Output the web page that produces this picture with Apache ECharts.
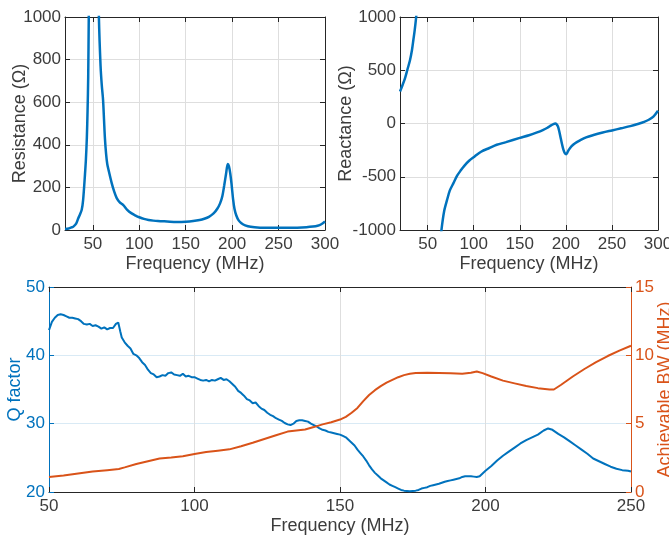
<!DOCTYPE html>
<html>
<head>
<meta charset="utf-8">
<script src="https://cdn.jsdelivr.net/npm/echarts@6.0.0/dist/echarts.min.js"></script>
<style>
html, body { margin: 0; padding: 0; background: #fff; }
#chart { width: 669px; height: 540px; }
</style>
</head>
<body>
<div id="chart"></div>
<script>
// tick labels
const freqTicksTop = [50, 100, 150, 200, 250, 300]

// resistance (top left)
const resFreq = [20, 24, 27, 29, 32, 34.3, 36, 38, 39.5, 41.5, 42.5, 43.5, 44.3, 45, 45.6, 47, 49.5, 51.5, 53.5, 55.5, 56.5, 58.3, 59.6, 61, 62, 63, 64.2, 65.5, 67, 70.3, 73, 75.7, 79, 82.8, 87, 91.8, 96, 100, 105, 110, 115, 120, 130, 140, 150, 158, 165, 170, 175, 180, 184, 187, 189.5, 191.5, 193.5, 195.3, 196.5, 198, 199.5, 201, 202.5, 204.5, 207, 210, 214, 220, 230, 240, 255, 270, 280, 287, 292, 296, 300]
const resValues = [5, 7, 12, 16, 30, 55, 72, 95, 140, 260, 330, 430, 560, 720, 1000, 1600, 2600, 2800, 2200, 1300, 1000, 770, 680, 610, 520, 430, 360, 310, 280, 220, 180, 150, 130, 117, 95, 78, 68, 60, 52, 47, 44, 42, 40, 38, 39, 42, 47, 53, 62, 78, 100, 125, 160, 210, 265, 310, 300, 265, 210, 145, 100, 68, 45, 32, 22, 15, 11, 10, 10, 11, 13, 16, 20, 27, 40]

// reactance (top right), '-' = gap at the resonance
const reacFreq = [20, 22.5, 25.4, 28, 30.9, 33, 34.5, 36, 37.4, 39, 41, 50, 62, 63.5, 65, 68, 71, 74, 78, 82, 86, 90, 95, 101, 108, 117, 125, 135, 150, 160, 168, 175, 180, 184, 186.5, 188.5, 190, 191.5, 193, 194.5, 196, 197.5, 199, 200.3, 201.5, 203, 206, 210, 215, 222, 230, 240, 250, 260, 270, 278, 285, 290, 295, 300]
const reacValues = [300, 355, 424, 505, 596, 690, 784, 880, 988, 1130, 1400, '-', -1400, -1150, -1000, -820, -720, -630, -560, -490, -440, -395, -350, -310, -265, -230, -200, -175, -135, -110, -86, -62, -40, -18, -5, 0, -8, -30, -80, -140, -200, -250, -280, -288, -275, -250, -215, -185, -160, -130, -108, -85, -65, -45, -25, -5, 15, 35, 65, 120]

// Q factor (bottom, left axis)
const qFreq = [50, 51, 52, 53, 54, 55, 56, 57, 58, 59, 60, 61, 62, 63, 64, 65, 66, 67, 68, 69, 70, 71, 72, 73, 73.8, 74.5, 75, 76, 77, 78, 79, 80, 81, 82, 83, 84, 85, 86, 87, 88, 89, 90, 91, 92, 93, 94, 95, 96, 97, 98, 99, 100, 101, 102, 103, 104, 105, 106, 107, 108, 109, 110, 111, 112, 113, 114, 115, 116, 117, 118, 119, 120, 121, 122, 123, 124, 125, 126, 127, 128, 129, 130, 131, 132, 133, 134, 135, 136, 137, 138, 139, 140, 141, 142, 143, 144, 145, 146, 147, 148, 149, 150, 151, 152, 153, 154, 155, 156, 157, 158, 159, 160, 161, 162, 163, 164, 165, 166, 167, 168, 169, 170, 171, 172, 173, 174, 175, 176, 177, 178, 179, 180, 181, 182, 183, 184, 185, 186, 187, 188, 189, 190, 191, 192, 193, 194, 195, 196, 197, 198, 199, 200, 202, 204, 206, 208, 210, 212, 214, 216, 218, 220, 221.5, 223, 225, 227, 229, 231, 233, 235, 237, 239, 241, 243, 245, 247, 249, 250]
const qValues = [43.7, 44.9, 45.5, 45.9, 46.0, 45.9, 45.7, 45.5, 45.5, 45.4, 45.3, 45.0, 44.6, 44.5, 44.6, 44.3, 44.4, 44.2, 43.9, 44.1, 43.8, 44.0, 44.0, 44.6, 44.8, 43.5, 42.6, 41.9, 41.4, 41.0, 40.2, 40.0, 39.6, 39.0, 38.6, 37.9, 37.4, 37.2, 36.8, 36.9, 37.1, 37.0, 37.4, 37.5, 37.2, 37.1, 37.0, 37.3, 36.9, 37.0, 36.8, 36.8, 36.6, 36.4, 36.3, 36.4, 36.2, 36.4, 36.3, 36.5, 36.7, 36.4, 36.5, 36.2, 35.8, 35.4, 34.8, 34.5, 34.1, 33.6, 33.4, 33.0, 33.1, 32.6, 32.2, 32.0, 31.6, 31.3, 31.1, 30.8, 30.6, 30.4, 30.1, 29.9, 29.8, 30.0, 30.4, 30.5, 30.5, 30.4, 30.3, 30.0, 29.8, 29.6, 29.3, 29.1, 29.0, 28.8, 28.7, 28.6, 28.5, 28.4, 28.2, 28.0, 27.6, 27.2, 26.8, 26.2, 25.7, 25.2, 24.6, 23.9, 23.3, 22.8, 22.4, 22.0, 21.7, 21.4, 21.1, 20.9, 20.7, 20.5, 20.3, 20.2, 20.15, 20.1, 20.15, 20.2, 20.3, 20.5, 20.6, 20.7, 20.9, 21.0, 21.1, 21.2, 21.35, 21.5, 21.6, 21.7, 21.8, 21.9, 22.0, 22.2, 22.3, 22.3, 22.3, 22.25, 22.2, 22.3, 22.7, 23.1, 23.8, 24.6, 25.3, 25.9, 26.5, 27.1, 27.6, 28.0, 28.4, 29.0, 29.3, 29.1, 28.5, 28.0, 27.4, 26.8, 26.2, 25.6, 24.9, 24.5, 24.1, 23.7, 23.4, 23.2, 23.1, 23.0]

// achievable bandwidth (bottom, right axis)
const bwFreq = [50, 55, 60, 65, 70, 74, 76, 80, 84, 88, 92, 96, 100, 104, 108, 112, 116, 120, 124, 128, 132, 135, 138, 141, 144, 147, 150, 152, 154, 156, 158, 160, 162, 164, 166, 168, 170, 172, 174, 176, 180, 184, 188, 192, 195, 197, 199, 202, 206, 210, 214, 218, 222, 223.5, 226, 230, 234, 238, 242, 246, 250]
const bwValues = [1.1, 1.2, 1.35, 1.5, 1.6, 1.68, 1.8, 2.05, 2.25, 2.45, 2.52, 2.62, 2.78, 2.92, 3.02, 3.12, 3.35, 3.6, 3.88, 4.15, 4.42, 4.5, 4.57, 4.75, 4.95, 5.1, 5.3, 5.5, 5.8, 6.15, 6.65, 7.1, 7.45, 7.75, 8.0, 8.2, 8.4, 8.55, 8.65, 8.7, 8.72, 8.7, 8.68, 8.65, 8.72, 8.82, 8.7, 8.45, 8.15, 7.95, 7.75, 7.6, 7.5, 7.5, 7.85, 8.45, 9.0, 9.5, 9.95, 10.35, 10.7]

const FONT = 'Liberation Sans'
const DARK = '#262626'
const TEXT = '#3c3c3c'
const BLUE = '#0072BD'
const ORANGE = '#D95319'

function zip(xs, ys) {
    return xs.map((x, i) => [x, ys[i]])
}

function mainAxis(opt) {
    const color = opt.color || DARK
    const axis = {
        type: 'value',
        gridIndex: opt.grid,
        position: opt.position,
        min: opt.min,
        max: opt.max,
        axisLine: { show: true, onZero: false, lineStyle: { color: color, width: 1 } },
        axisTick: { show: true, inside: true, length: 5, lineStyle: { color: color } },
        axisLabel: {
            color: opt.textColor || TEXT, fontSize: 17, fontFamily: FONT, margin: opt.margin,
            formatter: (v) => String(v)
        },
        splitLine: { show: opt.split !== false, lineStyle: { color: opt.splitColor || '#dedede', width: 1 } },
        name: opt.name,
        nameLocation: 'middle',
        nameGap: opt.nameGap,
        nameRotate: opt.nameRotate,
        nameMoveOverlap: false,
        nameTextStyle: { color: opt.textColor || TEXT, fontSize: 18, fontFamily: FONT }
    }
    if (opt.interval) axis.interval = opt.interval
    if (opt.ticks) {
        axis.axisTick.customValues = opt.ticks
        axis.axisLabel.customValues = opt.ticks
    }
    return axis
}

// axis on the opposite side, only line + ticks (box)
function boxAxis(opt) {
    const color = opt.color || DARK
    const axis = {
        type: 'value',
        gridIndex: opt.grid,
        position: opt.position,
        min: opt.min,
        max: opt.max,
        axisLine: { show: true, onZero: false, lineStyle: { color: color, width: 1 } },
        axisTick: { show: true, inside: true, length: 5, lineStyle: { color: color } },
        axisLabel: { show: false },
        splitLine: { show: false }
    }
    if (opt.interval) axis.interval = opt.interval
    if (opt.ticks) axis.axisTick.customValues = opt.ticks
    return axis
}

const chart = echarts.init(document.getElementById('chart'))
const option = {
    animation: false,
    backgroundColor: '#ffffff',
    grid: [
        { left: 65, top: 17, width: 260, height: 213, outerBoundsMode: 'none' },
        { left: 400, top: 17, width: 258, height: 213, outerBoundsMode: 'none' },
        { left: 49, top: 287, width: 582, height: 205, outerBoundsMode: 'none' }
    ],
    xAxis: [
        mainAxis({ grid: 0, position: 'bottom', min: 20, max: 300, ticks: freqTicksTop, margin: 6, name: 'Frequency (MHz)', nameGap: 25 }),
        boxAxis({ grid: 0, position: 'top', min: 20, max: 300, ticks: freqTicksTop }),
        mainAxis({ grid: 1, position: 'bottom', min: 20, max: 300, ticks: freqTicksTop, margin: 6, name: 'Frequency (MHz)', nameGap: 25 }),
        boxAxis({ grid: 1, position: 'top', min: 20, max: 300, ticks: freqTicksTop }),
        mainAxis({ grid: 2, position: 'bottom', min: 50, max: 250, interval: 50, margin: 6, name: 'Frequency (MHz)', nameGap: 25 }),
        boxAxis({ grid: 2, position: 'top', min: 50, max: 250, interval: 50 })
    ],
    yAxis: [
        mainAxis({ grid: 0, position: 'left', min: 0, max: 1000, interval: 200, margin: 4, name: 'Resistance (Ω)', nameGap: 36, nameRotate: 90 }),
        boxAxis({ grid: 0, position: 'right', min: 0, max: 1000, interval: 200 }),
        mainAxis({ grid: 1, position: 'left', min: -1000, max: 1000, interval: 500, margin: 4, name: 'Reactance (Ω)', nameGap: 45, nameRotate: 90 }),
        boxAxis({ grid: 1, position: 'right', min: -1000, max: 1000, interval: 500 }),
        mainAxis({ grid: 2, position: 'left', min: 20, max: 50, interval: 10, margin: 4, color: BLUE, textColor: BLUE, splitColor: '#d9eaf5', name: 'Q factor', nameGap: 25, nameRotate: 90 }),
        mainAxis({ grid: 2, position: 'right', min: 0, max: 15, interval: 5, margin: 4, color: ORANGE, textColor: ORANGE, split: false, name: 'Achievable BW (MHz)', nameGap: 25, nameRotate: 90 })
    ],
    series: [
        {
            name: 'Resistance', type: 'line', xAxisIndex: 0, yAxisIndex: 0,
            data: zip(resFreq, resValues), showSymbol: false, smooth: 0.3,
            lineStyle: { color: BLUE, width: 2.5 }, itemStyle: { color: BLUE }
        },
        {
            name: 'Reactance', type: 'line', xAxisIndex: 2, yAxisIndex: 2,
            data: zip(reacFreq, reacValues), showSymbol: false, smooth: 0.3, connectNulls: false,
            lineStyle: { color: BLUE, width: 2.5 }, itemStyle: { color: BLUE }
        },
        {
            name: 'Q factor', type: 'line', xAxisIndex: 4, yAxisIndex: 4,
            data: zip(qFreq, qValues), showSymbol: false,
            lineStyle: { color: BLUE, width: 2 }, itemStyle: { color: BLUE }
        },
        {
            name: 'Achievable BW', type: 'line', xAxisIndex: 4, yAxisIndex: 5,
            data: zip(bwFreq, bwValues), showSymbol: false,
            lineStyle: { color: ORANGE, width: 2 }, itemStyle: { color: ORANGE }
        }
    ]
}
chart.setOption(option)
</script>
</body>
</html>
